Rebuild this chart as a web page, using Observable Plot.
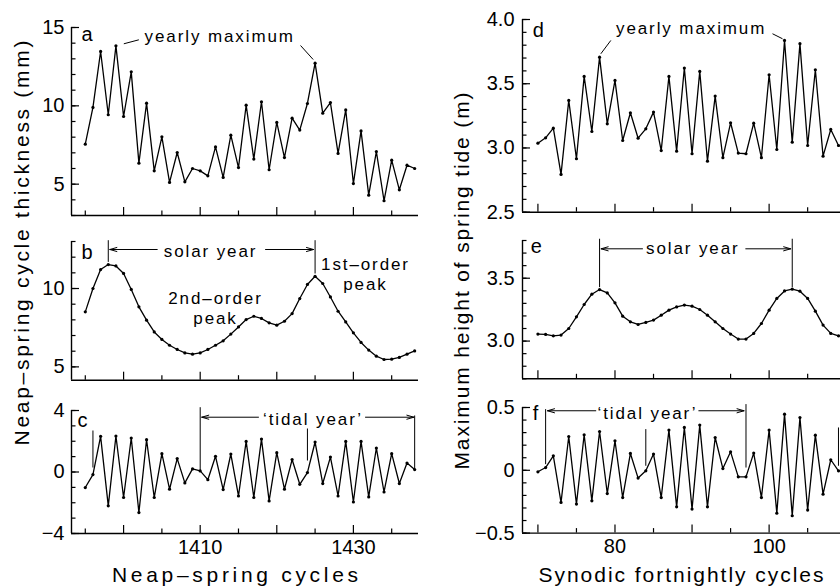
<!DOCTYPE html>
<html><head><meta charset="utf-8">
<script src="https://cdn.jsdelivr.net/npm/d3@7"></script>
<script src="https://cdn.jsdelivr.net/npm/@observablehq/plot@0.6"></script>
<style>
body{margin:0;background:#fff;}
#fig{position:relative;width:840px;height:586px;overflow:hidden;background:#fff;font-family:"Liberation Sans",Arial,Helvetica,sans-serif;}
#fig svg{position:absolute;overflow:visible;}
</style></head><body><div id="fig"></div>
<script>
// ---------- data ----------
const neapCycles = [1395,1396,1397,1398,1399,1400,1401,1402,1403,1404,1405,1406,1407,1408,1409,1410,1411,1412,1413,1414,1415,1416,1417,1418,1419,1420,1421,1422,1423,1424,1425,1426,1427,1428,1429,1430,1431,1432,1433,1434,1435,1436,1437,1438];
const thicknessA = [7.55,9.9,13.47,9.43,13.83,9.32,12.17,6.34,10.17,5.85,8.02,5.11,7.02,5.15,6.0,5.85,5.53,7.38,5.43,8.13,6.06,10.04,6.6,10.26,5.92,8.94,6.7,9.21,8.45,10.15,12.72,9.53,10.21,6.96,9.74,5.04,8.4,4.3,7.08,3.94,6.53,4.64,6.21,6.0];
const smoothB = [8.51,10.0,11.21,11.53,11.44,10.96,9.94,8.83,7.98,7.23,6.75,6.38,6.11,5.89,5.81,5.89,6.11,6.38,6.66,7.09,7.55,8.02,8.23,8.09,7.81,7.66,7.91,8.4,9.36,10.26,10.78,10.32,9.46,8.55,7.87,7.17,6.56,6.07,5.68,5.47,5.49,5.6,5.81,6.02];
const residC = [-1.01,-0.17,2.32,-2.2,2.34,-1.66,2.21,-2.64,2.1,-1.66,1.19,-1.12,0.87,-0.71,0.2,0.07,-0.5,1.02,-1.14,1.17,-1.56,1.99,-1.66,2.14,-1.88,1.26,-1.12,0.81,-0.8,-0.04,1.95,-0.75,0.97,-1.56,1.99,-1.95,1.99,-1.62,1.56,-1.3,1.19,-0.75,0.58,0.16];

const synodicCycles = [70,71,72,73,74,75,76,77,78,79,80,81,82,83,84,85,86,87,88,89,90,91,92,93,94,95,96,97,98,99,100,101,102,103,104,105,106,107,108,109];
const heightD = [3.037,3.079,3.154,2.794,3.37,2.916,3.557,3.128,3.707,3.188,3.526,3.058,3.274,3.076,3.149,3.279,2.98,3.557,2.975,3.622,2.955,3.596,2.897,3.404,2.924,3.196,2.96,2.955,3.193,2.924,3.57,2.988,3.837,3.045,3.812,3.019,3.609,2.936,3.144,3.019];
const smoothE = [3.056,3.053,3.042,3.048,3.10,3.193,3.291,3.373,3.41,3.383,3.304,3.198,3.153,3.132,3.148,3.167,3.206,3.246,3.272,3.286,3.278,3.251,3.206,3.153,3.10,3.056,3.016,3.016,3.061,3.14,3.246,3.339,3.399,3.413,3.397,3.339,3.238,3.127,3.061,3.042];
const residF = [-0.012,0.022,0.115,-0.256,0.269,-0.269,0.283,-0.243,0.309,-0.185,0.235,-0.217,0.134,-0.062,-0.004,0.129,-0.217,0.32,-0.291,0.341,-0.309,0.36,-0.291,0.261,0.014,0.147,-0.052,-0.052,0.137,-0.217,0.32,-0.341,0.447,-0.362,0.42,-0.317,0.28,-0.19,0.084,-0.004];

// tick values
const leftXMajor = [1400,1410,1420,1430];
const leftXMinor = [1395,1405,1415,1425,1435];
const leftXLabels = [1410,1430];
const rightXMajor = [70,80,90,100];
const rightXMinor = [75,85,95,105];
const rightXLabels = [80,100];

// annotations (data units)
const annA = {
  texts:[{x:1394.51,y:14.62,t:"a",a:"start",s:20},{x:1412.55,y:14.47,t:"yearly maximum",a:"middle",s:17}],
  links:[{x1:1400.03,y1:13.96,x2:1401.99,y2:14.215},{x1:1423.10,y1:13.851,x2:1424.75,y2:12.957}],
  arrows:[]
};
const annB = {
  texts:[{x:1394.51,y:12.387,t:"b",a:"start",s:20},{x:1411.35,y:12.406,t:"solar year",a:"middle",s:17},
    {x:1431.58,y:10.938,t:"1st–order\npeak",a:"middle",s:17},
    {x:1412.0,y:8.768,t:"2nd–order\npeak",a:"middle",s:17}],
  links:[{x1:1398,y1:13.083,x2:1398,y2:11.698},{x1:1425,y1:13.083,x2:1425,y2:10.957}],
  arrows:[{x1:1404.39,y1:12.489,x2:1398.2,y2:12.489},{x1:1418.53,y1:12.489,x2:1424.8,y2:12.489}]
};
const annC = {
  texts:[{x:1393.98,y:3.44,t:"c",a:"start",s:20},{x:1424.73,y:3.486,t:"‘tidal year’",a:"middle",s:17}],
  links:[{x1:1396,y1:2.699,x2:1396,y2:0.293},{x1:1410,y1:4.215,x2:1410,y2:0.098},{x1:1424,y1:2.829,x2:1424,y2:0.748},{x1:1438,y1:3.675,x2:1438,y2:0.228}],
  arrows:[{x1:1417.61,y1:3.564,x2:1410.2,y2:3.564},{x1:1431.58,y1:3.564,x2:1437.9,y2:3.564}]
};
const annD = {
  texts:[{x:69.34,y:3.925,t:"d",a:"start",s:20},{x:89.88,y:3.935,t:"yearly maximum",a:"middle",s:17}],
  links:[{x1:78.16,y1:3.733,x2:79.46,y2:3.837},{x1:100.44,y1:3.889,x2:101.74,y2:3.85}],
  arrows:[]
};
const annE = {
  texts:[{x:69.08,y:3.758,t:"e",a:"start",s:20},{x:90.1,y:3.742,t:"solar year",a:"middle",s:17}],
  links:[{x1:78,y1:3.814,x2:78,y2:3.429},{x1:103,y1:3.814,x2:103,y2:3.429}],
  arrows:[{x1:83.57,y1:3.734,x2:78.2,y2:3.734},{x1:96.97,y1:3.734,x2:102.8,y2:3.734}]
};
const annF = {
  texts:[{x:69.34,y:0.459,t:"f",a:"start",s:20},{x:84.22,y:0.463,t:"‘tidal year’",a:"middle",s:17}],
  links:[{x1:71,y1:0.487,x2:71,y2:0.049},{x1:84,y1:0.328,x2:84,y2:0.036},{x1:97,y1:0.527,x2:97,y2:0.022},{x1:109,y1:0.341,x2:109,y2:0.036}],
  arrows:[{x1:77.51,y1:0.474,x2:71.24,y2:0.474},{x1:90.88,y1:0.474,x2:96.75,y2:0.474}]
};

const FONT = '"Liberation Sans", Arial, Helvetica, sans-serif';
const fig = document.getElementById("fig");

function panel(o) {
  const [L, T, R, B] = o.frame;
  const ml = 60, mr = R >= 840 ? 0 : 10, mt = 20, mb = o.xLabels ? 40 : 10;
  const W = R - L, H = B - T;
  const data = o.xs.map((x, i) => ({x, y: o.ys[i]}));
  const ann = o.ann;
  const mk = [];
  for (const anchor of ["start", "middle"]) {
    for (const s of [17, 20]) {
      const sub = ann.texts.filter(d => d.a === anchor && d.s === s);
      if (sub.length) mk.push(Plot.text(sub, {x: "x", y: "y", text: "t", textAnchor: anchor, fontSize: s, lineHeight: 1.17, fill: "#000"}));
    }
  }
  const svg = Plot.plot({
    width: W + ml + mr, height: H + mt + mb,
    marginLeft: ml, marginRight: mr, marginTop: mt, marginBottom: mb,
    style: {background: "transparent", fontFamily: FONT, fontSize: "20px", color: "#000", overflow: "visible"},
    x: {domain: o.xDomain, axis: o.xLabels ? "bottom" : null, ticks: o.xLabels || [], tickSize: 0, tickPadding: 6, label: null, tickFormat: d => String(d)},
    y: {domain: o.yDomain, axis: "left", ticks: o.yLabels, tickSize: 0, tickPadding: o.yPad, label: null, tickFormat: o.yFmt},
    marks: [
      Plot.tickY(o.yMinor, {y: d => d, insetRight: W - 4.5, stroke: "#000", strokeWidth: 1.2}),
      Plot.tickY(o.yMajor, {y: d => d, insetRight: W - 8, stroke: "#000", strokeWidth: 1.2}),
      Plot.tickX(o.xMinor, {x: d => d, insetTop: H - 4.5, stroke: "#000", strokeWidth: 1.2}),
      Plot.tickX(o.xMajor, {x: d => d, insetTop: H - 8, stroke: "#000", strokeWidth: 1.2}),
      Plot.ruleX([o.xDomain[0]], {stroke: "#000", strokeWidth: 1.4}),
      Plot.ruleY([o.yDomain[0]], {stroke: "#000", strokeWidth: 1.4}),
      Plot.line(data, {x: "x", y: "y", stroke: "#000", strokeWidth: 1.3}),
      Plot.dot(data, {x: "x", y: "y", r: 1.6, fill: "#000", stroke: null}),
      Plot.link(ann.links, {x1: "x1", y1: "y1", x2: "x2", y2: "y2", stroke: "#000", strokeWidth: 1}),
      Plot.arrow(ann.arrows, {x1: "x1", y1: "y1", x2: "x2", y2: "y2", stroke: "#000", strokeWidth: 1, headLength: 11, headAngle: 32}),
      ...mk
    ]
  });
  svg.style.left = (L - ml) + "px";
  svg.style.top = (T - mt) + "px";
  d3.select(svg).selectAll('g[aria-label="text"] text').style("letter-spacing", "1.9px");
  fig.appendChild(svg);
}

const rng = (a, b, s) => { const r = []; for (let v = a; v <= b + 1e-9; v += s) r.push(+v.toFixed(2)); return r; };
const fmtInt = d => d3.format("d")(d);
const fmt1 = d => d3.format(".1f")(d);
const fmtF = d => d === 0 ? "0" : d3.format(".1f")(d);

// left column
const LX = [1393.2, 1438.5];
panel({frame:[71,27,418,215], xDomain:LX, yDomain:[3,15], xs:neapCycles, ys:thicknessA,
  yMinor:rng(3,15,1), yMajor:[5,10,15], yLabels:[5,10,15], yFmt:fmtInt, yPad:7,
  xMinor:leftXMinor, xMajor:leftXMajor, ann:annA});
panel({frame:[71,241.3,418,380], xDomain:LX, yDomain:[4.15,13], xs:neapCycles, ys:smoothB,
  yMinor:rng(5,13,1), yMajor:[5,10], yLabels:[5,10], yFmt:fmtInt, yPad:7,
  xMinor:leftXMinor, xMajor:leftXMajor, ann:annB});
panel({frame:[71,410,418,533], xDomain:LX, yDomain:[-4,4], xs:neapCycles, ys:residC,
  yMinor:rng(-4,4,1), yMajor:[-4,0,4], yLabels:[-4,0,4], yFmt:fmtInt, yPad:7,
  xMinor:leftXMinor, xMajor:leftXMajor, xLabels:leftXLabels, ann:annC});
// right column
const RX = [68, 109.3];
panel({frame:[521.7,19,840,211.7], xDomain:RX, yDomain:[2.5,4.0], xs:synodicCycles, ys:heightD,
  yMinor:rng(2.5,4.0,0.1), yMajor:[2.5,3.0,3.5,4.0], yLabels:[2.5,3.0,3.5,4.0], yFmt:fmt1, yPad:8,
  xMinor:rightXMinor, xMajor:rightXMajor, ann:annD});
panel({frame:[521.7,240,840,378.3], xDomain:RX, yDomain:[2.7,3.8], xs:synodicCycles, ys:smoothE,
  yMinor:rng(2.7,3.8,0.1), yMajor:[3.0,3.5], yLabels:[3.0,3.5], yFmt:fmt1, yPad:8,
  xMinor:rightXMinor, xMajor:rightXMajor, ann:annE});
panel({frame:[521.7,406.7,840,532.3], xDomain:RX, yDomain:[-0.5,0.5], xs:synodicCycles, ys:residF,
  yMinor:rng(-0.5,0.5,0.1), yMajor:[-0.5,0,0.5], yLabels:[-0.5,0,0.5], yFmt:fmtF, yPad:8,
  xMinor:rightXMinor, xMajor:rightXMajor, xLabels:rightXLabels, ann:annF});

// axis titles
const ov = d3.select(fig).append("svg").attr("width", 840).attr("height", 586)
  .style("left", "0px").style("top", "0px").style("pointer-events", "none")
  .attr("font-family", FONT).attr("font-size", 21).attr("fill", "#000");
ov.append("text").attr("x", 235).attr("y", 582).attr("text-anchor", "middle")
  .attr("textLength", 246).attr("lengthAdjust", "spacing").text("Neap–spring cycles");
ov.append("text").attr("x", 681).attr("y", 582).attr("text-anchor", "middle")
  .attr("textLength", 285).attr("lengthAdjust", "spacing").text("Synodic fortnightly cycles");
ov.append("text").attr("transform", "translate(29,243) rotate(-90)").attr("text-anchor", "middle")
  .attr("textLength", 405).attr("lengthAdjust", "spacing").text("Neap–spring cycle thickness (mm)");
ov.append("text").attr("transform", "translate(469,281) rotate(-90)").attr("text-anchor", "middle")
  .attr("textLength", 377).attr("lengthAdjust", "spacing").text("Maximum height of spring tide (m)");
</script></body></html>
